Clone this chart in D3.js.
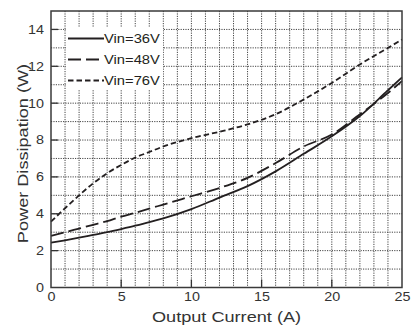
<!DOCTYPE html>
<html>
<head>
<meta charset="utf-8">
<script src="https://cdn.jsdelivr.net/npm/d3@7"></script>
<style>
  body { margin: 0; background: #fff; }
  svg { display: block; font-family: "Liberation Sans", Arial, sans-serif; }
</style>
</head>
<body>
<div id="chart"></div>
<script>
// Power dissipation vs output current, three input voltages

const currents = [0, 1, 2, 3, 4, 5, 6, 7, 8, 10, 12, 14, 16, 18, 20, 22, 24, 25];
const vin36 = [2.43, 2.56, 2.7, 2.85, 3.0, 3.17, 3.35, 3.55, 3.75, 4.25, 4.88, 5.5, 6.3, 7.25, 8.2, 9.3, 10.7, 11.4];
const vin48 = [2.8, 3.0, 3.2, 3.4, 3.6, 3.85, 4.05, 4.28, 4.5, 4.95, 5.4, 5.95, 6.75, 7.65, 8.3, 9.4, 10.55, 11.2];
const vin76 = [3.57, 4.3, 5.0, 5.65, 6.2, 6.65, 7.05, 7.35, 7.65, 8.1, 8.45, 8.85, 9.4, 10.2, 11.1, 12.1, 13.0, 13.45];

const seriesNames = ['Vin=36V', 'Vin=48V', 'Vin=76V'];
const seriesDash = [null, '13,5', '5.5,3'];

const xTicks = [0, 5, 10, 15, 20, 25];
const yTicks = [0, 2, 4, 6, 8, 10, 12, 14];

const W = 411, H = 326;
const margin = { top: 11, right: 9, bottom: 38.5, left: 51 };
const width = W - margin.left - margin.right;
const height = H - margin.top - margin.bottom;
const stretch = 'scale(1.17,1)';

const svg = d3.select('#chart').append('svg')
    .attr('width', W)
    .attr('height', H);

const g = svg.append('g')
    .attr('transform', `translate(${margin.left},${margin.top})`);

const x = d3.scaleLinear().domain([0, 25]).range([0, width]);
const y = d3.scaleLinear().domain([0, 15]).range([height, 0]);

// dotted grid, every unit
g.append('g')
    .selectAll('line')
    .data(d3.range(1, 25))
    .enter().append('line')
    .attr('x1', d => x(d)).attr('x2', d => x(d))
    .attr('y1', 0).attr('y2', height)
    .attr('stroke', '#444')
    .attr('stroke-width', 1)
    .attr('stroke-dasharray', '1.2,1.2');

g.append('g')
    .selectAll('line')
    .data(d3.range(1, 15))
    .enter().append('line')
    .attr('x1', 0).attr('x2', width)
    .attr('y1', d => y(d)).attr('y2', d => y(d))
    .attr('stroke', '#444')
    .attr('stroke-width', 1)
    .attr('stroke-dasharray', '1.2,1.2');

// inner tick marks
g.append('g')
    .selectAll('line')
    .data(xTicks.slice(1, -1))
    .enter().append('line')
    .attr('x1', d => x(d)).attr('x2', d => x(d))
    .attr('y1', height).attr('y2', height - 8)
    .attr('stroke', '#333')
    .attr('stroke-width', 1.3);

g.append('g')
    .selectAll('line')
    .data(yTicks.slice(1))
    .enter().append('line')
    .attr('x1', 0).attr('x2', 7)
    .attr('y1', d => y(d)).attr('y2', d => y(d))
    .attr('stroke', '#333')
    .attr('stroke-width', 1.3);

// curves
const line = d3.line()
    .x(d => x(d[0]))
    .y(d => y(d[1]))
    .curve(d3.curveMonotoneX);

[vin36, vin48, vin76].forEach((vals, i) => {
    g.append('path')
        .datum(currents.map((c, j) => [c, vals[j]]))
        .attr('d', line)
        .attr('fill', 'none')
        .attr('stroke', '#231f20')
        .attr('stroke-width', 1.8)
        .attr('stroke-dasharray', seriesDash[i]);
});

// legend with white backing
const legend = g.append('g').attr('transform', 'translate(15,0)');
legend.append('rect')
    .attr('x', 0).attr('y', 16)
    .attr('width', 97).attr('height', 62)
    .attr('fill', '#fff');

const items = legend.selectAll('.legend-item')
    .data(seriesNames)
    .enter().append('g')
    .attr('class', 'legend-item')
    .attr('transform', (d, i) => `translate(0,${27.5 + i * 21})`);

items.append('line')
    .attr('x1', 2).attr('x2', 38)
    .attr('y1', 0).attr('y2', 0)
    .attr('stroke', '#231f20')
    .attr('stroke-width', 1.8)
    .attr('stroke-dasharray', (d, i) => seriesDash[i]);

items.append('text')
    .attr('transform', `translate(38,4.6) ${stretch}`)
    .style('font-size', '12.6px')
    .style('fill', '#231f20')
    .text(d => d);

// frame
g.append('rect')
    .attr('width', width).attr('height', height)
    .attr('fill', 'none')
    .attr('stroke', '#3a3a3a')
    .attr('stroke-width', 1.5);

// axes (labels only)
const xAxis = g.append('g')
    .attr('transform', `translate(0,${height})`)
    .call(d3.axisBottom(x).tickValues(xTicks).tickSize(0).tickPadding(5));
xAxis.select('.domain').remove();
xAxis.selectAll('text')
    .attr('transform', stretch)
    .style('font-size', '12.3px')
    .style('fill', '#333');

const yAxis = g.append('g')
    .call(d3.axisLeft(y).tickValues(yTicks).tickSize(0).tickPadding(6));
yAxis.select('.domain').remove();
yAxis.selectAll('text')
    .attr('transform', stretch)
    .style('font-size', '12.3px')
    .style('fill', '#333');

// axis titles
svg.append('text')
    .attr('transform', `translate(${margin.left + width / 2},322) ${stretch}`)
    .attr('text-anchor', 'middle')
    .style('font-size', '15.5px')
    .style('fill', '#333')
    .text('Output Current (A)');

svg.append('text')
    .attr('transform', `translate(28,153.5) rotate(-90) ${stretch}`)
    .attr('text-anchor', 'middle')
    .style('font-size', '15.5px')
    .style('fill', '#333')
    .text('Power Dissipation (W)');
</script>
</body>
</html>
